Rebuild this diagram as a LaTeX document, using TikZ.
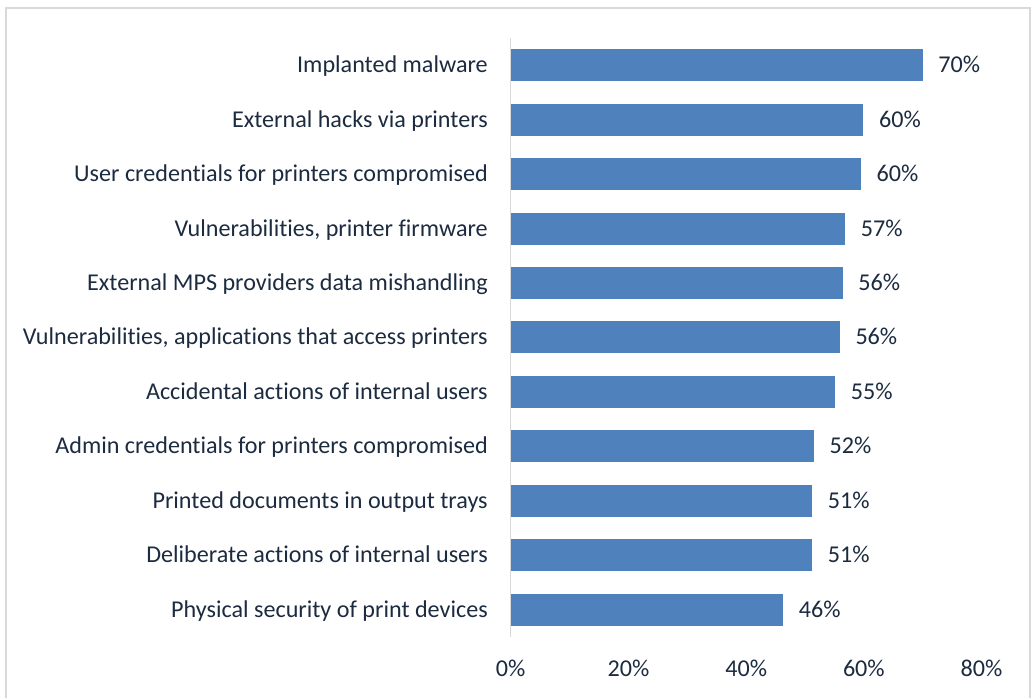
\documentclass[tikz,border=0pt]{standalone}
\usepackage{fontspec}
\setmainfont{Carlito}[Ligatures={NoCommon}]

\definecolor{barBlue}{HTML}{4F81BD}
\definecolor{labelInk}{HTML}{1C2B40}
\definecolor{frameGray}{HTML}{D9D9D9}

\newcommand{\axisX}{510.7}
\newcommand{\axisTop}{38}
\newcommand{\axisBottom}{637}
\newcommand{\pctWidth}{5.886}
\newcommand{\firstBarY}{65.2}
\newcommand{\barPitch}{54.45}
\newcommand{\halfBarH}{16}
\newcommand{\baseOffset}{7.5}
\newcommand{\catGap}{22.7}
\newcommand{\valGap}{15.5}
\newcommand{\tickY}{676.5}

\tikzset{
    chartText/.style={inner sep=0, text=labelInk, font=\fontsize{18.1}{21}\selectfont},
    catLabel/.style={chartText, anchor=base east},
    valLabel/.style={chartText, anchor=base west},
    tickLabel/.style={chartText, anchor=base},
    barFill/.style={fill=barBlue}
}

\begin{document}
\begin{tikzpicture}[x=0.75pt, y=-0.75pt]
        \clip (0,0) rectangle (1032,697);

        % Frame
        \draw [line width=1.5pt, frameGray] (6,8.3) rectangle (1030,710);

        % Bars
        \fill [barFill] (\axisX,\firstBarY+0*\barPitch-\halfBarH) rectangle (\axisX+70.0*\pctWidth,\firstBarY+0*\barPitch+\halfBarH);
        \fill [barFill] (\axisX,\firstBarY+1*\barPitch-\halfBarH) rectangle (\axisX+59.9*\pctWidth,\firstBarY+1*\barPitch+\halfBarH);
        \fill [barFill] (\axisX,\firstBarY+2*\barPitch-\halfBarH) rectangle (\axisX+59.5*\pctWidth,\firstBarY+2*\barPitch+\halfBarH);
        \fill [barFill] (\axisX,\firstBarY+3*\barPitch-\halfBarH) rectangle (\axisX+56.8*\pctWidth,\firstBarY+3*\barPitch+\halfBarH);
        \fill [barFill] (\axisX,\firstBarY+4*\barPitch-\halfBarH) rectangle (\axisX+56.4*\pctWidth,\firstBarY+4*\barPitch+\halfBarH);
        \fill [barFill] (\axisX,\firstBarY+5*\barPitch-\halfBarH) rectangle (\axisX+55.9*\pctWidth,\firstBarY+5*\barPitch+\halfBarH);
        \fill [barFill] (\axisX,\firstBarY+6*\barPitch-\halfBarH) rectangle (\axisX+55.1*\pctWidth,\firstBarY+6*\barPitch+\halfBarH);
        \fill [barFill] (\axisX,\firstBarY+7*\barPitch-\halfBarH) rectangle (\axisX+51.5*\pctWidth,\firstBarY+7*\barPitch+\halfBarH);
        \fill [barFill] (\axisX,\firstBarY+8*\barPitch-\halfBarH) rectangle (\axisX+51.2*\pctWidth,\firstBarY+8*\barPitch+\halfBarH);
        \fill [barFill] (\axisX,\firstBarY+9*\barPitch-\halfBarH) rectangle (\axisX+51.2*\pctWidth,\firstBarY+9*\barPitch+\halfBarH);
        \fill [barFill] (\axisX,\firstBarY+10*\barPitch-\halfBarH) rectangle (\axisX+46.3*\pctWidth,\firstBarY+10*\barPitch+\halfBarH);

        % Vertical axis
        \coordinate (axisTop) at (\axisX,\axisTop);
        \coordinate (axisBottom) at (\axisX,\axisBottom);
        \draw [line width=1.1pt, frameGray] (axisTop) -- (axisBottom);

        % Category labels
        \node[catLabel] (catMalware) at (\axisX-\catGap,\firstBarY+0*\barPitch+\baseOffset) {Implanted malware};
        \node[catLabel] (catHacks) at (\axisX-\catGap,\firstBarY+1*\barPitch+\baseOffset) {External hacks via printers};
        \node[catLabel] (catUserCred) at (\axisX-\catGap,\firstBarY+2*\barPitch+\baseOffset) {User credentials for printers compromised};
        \node[catLabel] (catFirmware) at (\axisX-\catGap,\firstBarY+3*\barPitch+\baseOffset) {Vulnerabilities, printer firmware};
        \node[catLabel] (catMPS) at (\axisX-\catGap,\firstBarY+4*\barPitch+\baseOffset) {External MPS providers data mishandling};
        \node[catLabel] (catApps) at (\axisX-\catGap,\firstBarY+5*\barPitch+\baseOffset) {Vulnerabilities, applications that access printers};
        \node[catLabel] (catAccidental) at (\axisX-\catGap,\firstBarY+6*\barPitch+\baseOffset) {Accidental actions of internal users};
        \node[catLabel] (catAdminCred) at (\axisX-\catGap,\firstBarY+7*\barPitch+\baseOffset) {Admin credentials for printers compromised};
        \node[catLabel] (catTrays) at (\axisX-\catGap,\firstBarY+8*\barPitch+\baseOffset) {Printed documents in output trays};
        \node[catLabel] (catDeliberate) at (\axisX-\catGap,\firstBarY+9*\barPitch+\baseOffset) {Deliberate actions of internal users};
        \node[catLabel] (catPhysical) at (\axisX-\catGap,\firstBarY+10*\barPitch+\baseOffset) {Physical security of print devices};

        % Value labels
        \node[valLabel] (valMalware) at (\axisX+70.0*\pctWidth+\valGap,\firstBarY+0*\barPitch+\baseOffset) {70\%};
        \node[valLabel] (valHacks) at (\axisX+59.9*\pctWidth+\valGap,\firstBarY+1*\barPitch+\baseOffset) {60\%};
        \node[valLabel] (valUserCred) at (\axisX+59.5*\pctWidth+\valGap,\firstBarY+2*\barPitch+\baseOffset) {60\%};
        \node[valLabel] (valFirmware) at (\axisX+56.8*\pctWidth+\valGap,\firstBarY+3*\barPitch+\baseOffset) {57\%};
        \node[valLabel] (valMPS) at (\axisX+56.4*\pctWidth+\valGap,\firstBarY+4*\barPitch+\baseOffset) {56\%};
        \node[valLabel] (valApps) at (\axisX+55.9*\pctWidth+\valGap,\firstBarY+5*\barPitch+\baseOffset) {56\%};
        \node[valLabel] (valAccidental) at (\axisX+55.1*\pctWidth+\valGap,\firstBarY+6*\barPitch+\baseOffset) {55\%};
        \node[valLabel] (valAdminCred) at (\axisX+51.5*\pctWidth+\valGap,\firstBarY+7*\barPitch+\baseOffset) {52\%};
        \node[valLabel] (valTrays) at (\axisX+51.2*\pctWidth+\valGap,\firstBarY+8*\barPitch+\baseOffset) {51\%};
        \node[valLabel] (valDeliberate) at (\axisX+51.2*\pctWidth+\valGap,\firstBarY+9*\barPitch+\baseOffset) {51\%};
        \node[valLabel] (valPhysical) at (\axisX+46.3*\pctWidth+\valGap,\firstBarY+10*\barPitch+\baseOffset) {46\%};

        % Axis ticks
        \node[tickLabel] (tickZero) at (\axisX+0*\pctWidth,\tickY) {0\%};
        \node[tickLabel] (tickTwenty) at (\axisX+20*\pctWidth,\tickY) {20\%};
        \node[tickLabel] (tickForty) at (\axisX+40*\pctWidth,\tickY) {40\%};
        \node[tickLabel] (tickSixty) at (\axisX+60*\pctWidth,\tickY) {60\%};
        \node[tickLabel] (tickEighty) at (\axisX+80*\pctWidth,\tickY) {80\%};
\end{tikzpicture}
\end{document}
